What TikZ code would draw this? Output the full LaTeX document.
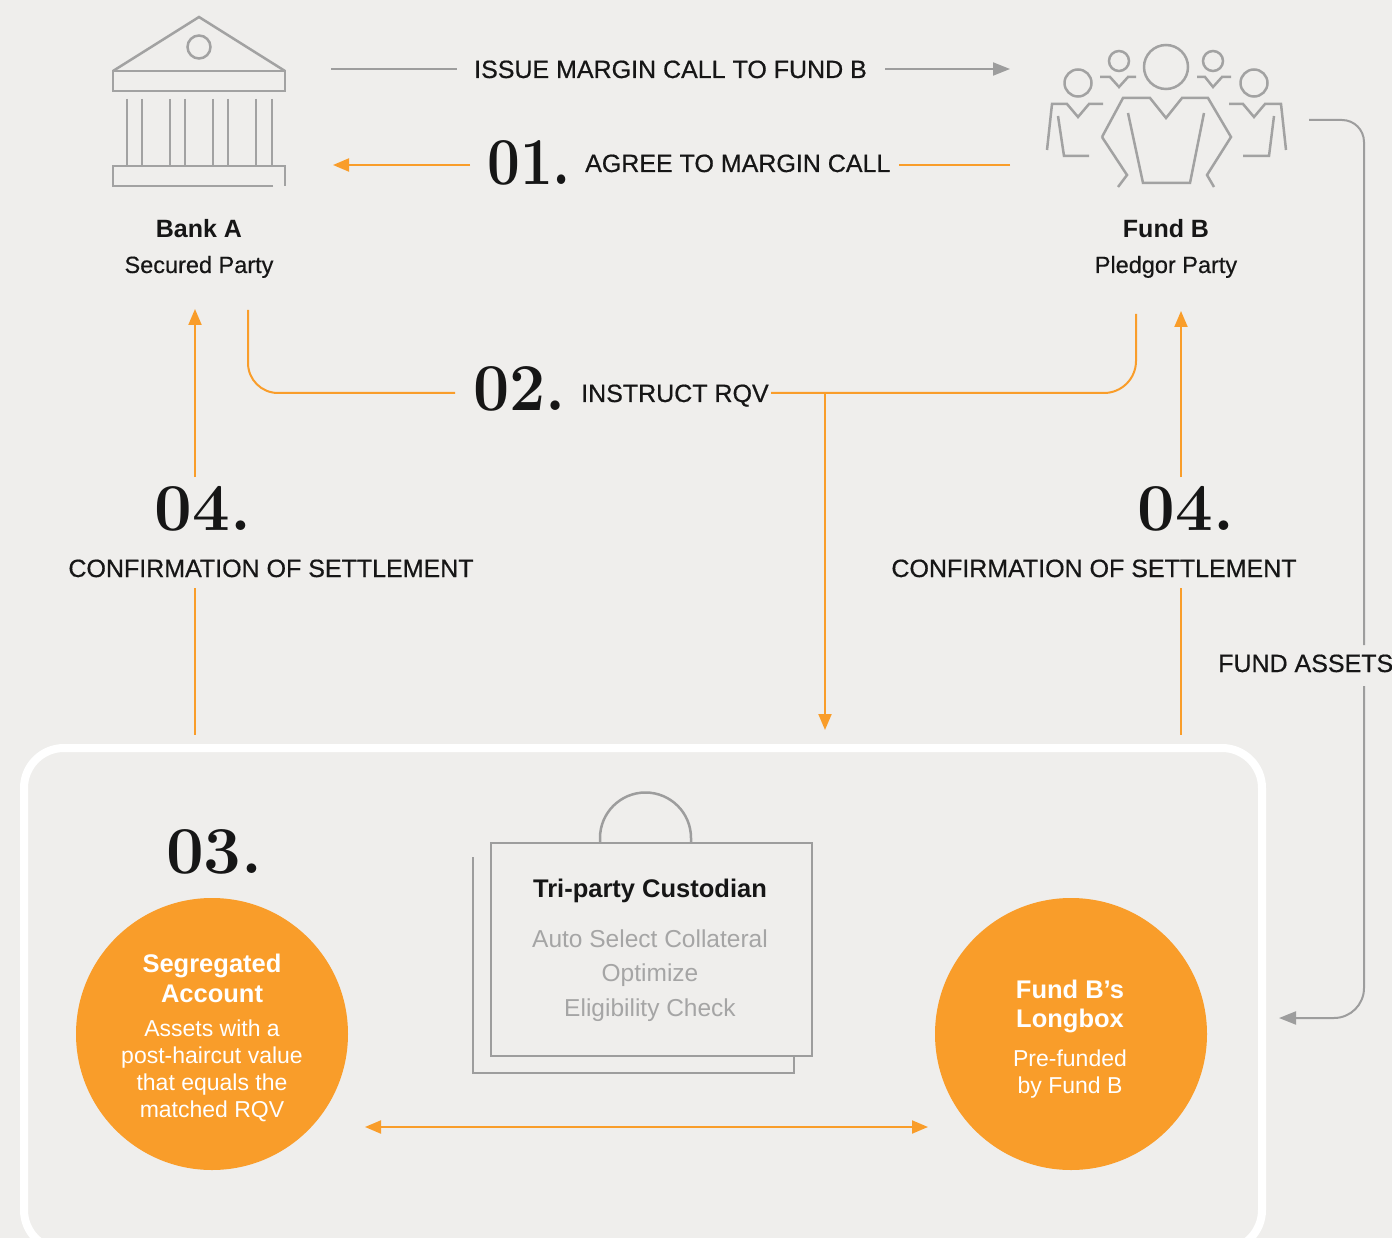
\documentclass[tikz,border=0pt]{standalone}
\usepackage{fontspec}
\usepackage{graphicx}
\setsansfont{Liberation Sans}
\usetikzlibrary{arrows.meta}
\definecolor{bg}{HTML}{EFEEEC}
\definecolor{org}{HTML}{F99D2A}
\definecolor{gline}{HTML}{9D9D9D}
\definecolor{gicon}{HTML}{A2A2A2}
\definecolor{gtext}{HTML}{A5A5A5}
\definecolor{ink}{HTML}{161616}
\begin{document}
\begin{tikzpicture}[x=1pt,y=-1pt,
  olink/.style={draw=org,line width=2pt},
  glink/.style={draw=gline,line width=2pt},
  otip/.style={-{Triangle[length=16pt,width=13pt]}},
  otips/.style={{Triangle[length=16pt,width=13pt]}-{Triangle[length=16pt,width=13pt]}},
  gtip/.style={-{Triangle[length=17pt,width=13pt]}},
  icon/.style={draw=gicon,line width=2.5pt},
  uclab/.style={font={\sffamily\fontsize{25}{30}\selectfont\addfontfeature{FakeBold=0.6}},text=ink,inner sep=0pt,anchor=base},
  ptitle/.style={font=\sffamily\bfseries\fontsize{25}{30}\selectfont,text=ink,inner sep=0pt,anchor=base},
  prole/.style={font={\sffamily\fontsize{23.5}{28}\selectfont\addfontfeature{FakeBold=0.4}},text=ink,inner sep=0pt,anchor=base},
  stepnum/.style={font={\rmfamily\bfseries\fontsize{67}{67}\selectfont},text=ink,inner sep=0pt,anchor=base west},
  ctitle/.style={font=\sffamily\bfseries\fontsize{25.5}{30}\selectfont,text=white,inner sep=0pt,anchor=base},
  ctext/.style={font=\sffamily\fontsize{23}{28}\selectfont,text=white,inner sep=0pt,anchor=base},
  gtxt/.style={font=\sffamily\fontsize{24.5}{28}\selectfont,text=gtext,inner sep=0pt,anchor=base},
  disc/.style={circle,fill=org,minimum size=272pt,inner sep=0pt}]
\fill[bg] (0,0) rectangle (1392,1238);
\useasboundingbox (0,0) rectangle (1392,1238);

% white rounded frame
\begin{scope}
\clip (0,0) rectangle (1392,1238);
\draw[white,line width=8pt,rounded corners=40pt] (24,748) rectangle (1262,1250);
\end{scope}

% ---------- Bank icon ----------
\draw[icon] (113,71) -- (199,17) -- (285,71);
\draw[icon] (199,47) circle[radius=11.5pt];
\draw[icon] (113,71) rectangle (285,91);
\foreach \cx in {127,142,170,185,213,228,256,272}
  \draw[icon] (\cx,99) -- (\cx,166);
\draw[icon] (273,186) -- (113,186) -- (113,166) -- (285,166) -- (285,186);

% ---------- People icon ----------
\draw[icon] (1166,67) circle[radius=22pt];
\draw[icon] (1102,137) -- (1123,98) -- (1150,98) -- (1166,118) -- (1182,98) -- (1208,98) -- (1231,137) -- (1207,175) -- (1214,187);
\draw[icon] (1102,137) -- (1127,175) -- (1118,187);
\draw[icon] (1128,113) -- (1143,183) -- (1190,183) -- (1204,113);
\draw[icon] (1119,61) circle[radius=10pt];
\draw[icon] (1100,77) -- (1110,77) -- (1119,87) -- (1128,77) -- (1136,77);
\draw[icon] (1213,61) circle[radius=10pt];
\draw[icon] (1197,77) -- (1205,77) -- (1213,87) -- (1222,77) -- (1231,77);
\draw[icon] (1078,83) circle[radius=13.5pt];
\draw[icon] (1047,150) -- (1052,104) -- (1067,104) -- (1078,117) -- (1089,104) -- (1103,104);
\draw[icon] (1058,116) -- (1064,156) -- (1089,156);
\draw[icon] (1254,83) circle[radius=13.5pt];
\draw[icon] (1286,150) -- (1281,104) -- (1265,104) -- (1254,117) -- (1243,104) -- (1229,104);
\draw[icon] (1274,116) -- (1269,156) -- (1243,156);

% ---------- party labels ----------
\node[ptitle] (bankA) at (199,238) {Bank A};
\node[prole] (bankArole) at (199,273) {Secured Party};
\node[ptitle] (fundB) at (1166,238) {Fund B};
\node[prole] (fundBrole) at (1166,273) {Pledgor Party};

% ---------- step labels ----------
\node[uclab] (issue) at (670.5,78) {ISSUE MARGIN CALL TO FUND B};
\node[stepnum] (n01) at (487,185) {\scalebox{0.87}[1]{01.}};
\node[uclab,anchor=base west] (agree) at (585,172) {AGREE TO MARGIN CALL};
\node[stepnum] (n02) at (473,410) {\scalebox{0.96}[1]{02.}};
\node[uclab,anchor=base west] (instruct) at (581,402) {INSTRUCT RQV};
\node[stepnum,anchor=base] (n04a) at (203,530) {04.};
\node[uclab] (confa) at (271,577) {CONFIRMATION OF SETTLEMENT};
\node[stepnum,anchor=base] (n04b) at (1186,530) {04.};
\node[uclab] (confb) at (1094,577) {CONFIRMATION OF SETTLEMENT};
\node[uclab,anchor=base west] (assets) at (1218,672) {FUND ASSETS};
\node[stepnum] (n03) at (166,873) {03.};

% ---------- coordinates ----------
\coordinate (i1) at (331,69);  \coordinate (i2) at (457,69);
\coordinate (i3) at (885,69);  \coordinate (i4) at (1010,69);
\coordinate (g1) at (1010,165); \coordinate (g2) at (899,165);
\coordinate (g3) at (470,165);  \coordinate (g4) at (333,165);
\coordinate (r1) at (248,310);  \coordinate (r2) at (455,393);
\coordinate (r3) at (771,393);  \coordinate (r4) at (1136,314);
\coordinate (r5) at (825,393);  \coordinate (r6) at (825,730);
\coordinate (ca1) at (195,477); \coordinate (ca2) at (195,309);
\coordinate (ca3) at (195,588); \coordinate (ca4) at (195,735);
\coordinate (cb1) at (1181,477); \coordinate (cb2) at (1181,311);
\coordinate (cb3) at (1181,588); \coordinate (cb4) at (1181,735);
\coordinate (f1) at (1309,120); \coordinate (f2) at (1364,645);
\coordinate (f3) at (1364,686); \coordinate (f4) at (1279,1018);

% ---------- connectors ----------
\draw[glink] (i1) -- (i2);
\draw[glink,gtip,gline] (i3) -- (i4);
\draw[olink] (g1) -- (g2);
\draw[olink,otip,org] (g3) -- (g4);
\draw[olink,rounded corners=30pt] (r1) -- (r1 |- r2) -- (r2);
\draw[olink,rounded corners=32pt] (r3) -- (r3 -| r4) -- (r4);
\draw[olink,otip,org] (r5) -- (r6);
\draw[olink,otip,org] (ca1) -- (ca2);
\draw[olink] (ca3) -- (ca4);
\draw[olink,otip,org] (cb1) -- (cb2);
\draw[olink] (cb3) -- (cb4);
\draw[glink,rounded corners=22pt] (f1) -- (f1 -| f2) -- (f2);
\draw[glink,gtip,gline,rounded corners=30pt] (f3) -- (f3 |- f4) -- (f4);

% ---------- custodian ----------
\draw[icon,draw=gline] (473,857) -- (473,1073) -- (794,1073) -- (794,1056);
\draw[icon,draw=gline] (491,843) rectangle (812,1056);
\draw[icon,draw=gline] (600,843) -- (600,838) arc[start angle=180,end angle=0,radius=45.5pt] -- (691,843);
\node[ptitle,font=\sffamily\bfseries\fontsize{25.5}{30}\selectfont] (cust) at (650,897) {Tri-party Custodian};
\node[gtxt] (cust1) at (650,947) {Auto Select Collateral};
\node[gtxt] (cust2) at (650,981) {Optimize};
\node[gtxt] (cust3) at (650,1016) {Eligibility Check};

% ---------- circles ----------
\node[disc] (seg) at (212,1034) {};
\node[disc] (longbox) at (1071,1034) {};
\node[ctitle] (seg1) at (212,972) {Segregated};
\node[ctitle] (seg2) at (212,1002) {Account};
\node[ctext] (seg3) at (212,1036) {Assets with a};
\node[ctext] (seg4) at (212,1063) {post-haircut value};
\node[ctext] (seg5) at (212,1090) {that equals the};
\node[ctext] (seg6) at (212,1117) {matched RQV};
\node[ctitle] (lb1) at (1070,998) {Fund B’s};
\node[ctitle] (lb2) at (1070,1027) {Longbox};
\node[ctext] (lb3) at (1070,1066) {Pre-funded};
\node[ctext] (lb4) at (1070,1093) {by Fund B};

\coordinate (d1) at (365,1127); \coordinate (d2) at (928,1127);
\draw[olink,otips,org] (d1) -- (d2);
\end{tikzpicture}
\end{document}
